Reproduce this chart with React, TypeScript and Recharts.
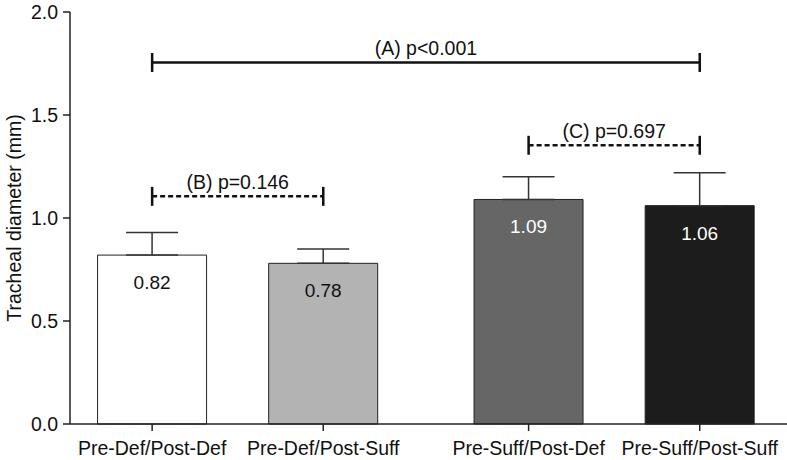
import React from "react";
import {
  BarChart,
  Bar,
  XAxis,
  YAxis,
  ErrorBar,
  LabelList,
  Cell,
  ReferenceLine,
} from "recharts";

// groups
const categories = [
  "Pre-Def/Post-Def",
  "Pre-Def/Post-Suff",
  "Pre-Suff/Post-Def",
  "Pre-Suff/Post-Suff",
];
// slot on the x scale; the bigger step splits the Pre-Def and Pre-Suff pairs
const slots = [1, 2, 3.2, 4.2];
const means = [0.82, 0.78, 1.09, 1.06];
const sds = [0.11, 0.07, 0.11, 0.16];
const yTicks = [0, 0.5, 1.0, 1.5, 2.0];

const compFrom = [0, 0, 2];
const compTo = [3, 1, 3];
const compY = [1.755, 1.105, 1.353];
const compText = ["(A) p<0.001", "(B) p=0.146", "(C) p=0.697"];
const compDashed = [false, true, true];

const barFills = ["#ffffff", "#b3b3b3", "#666666", "#1c1c1c"];
const labelFills = ["#111111", "#111111", "#ffffff", "#ffffff"];
const FONT = "'Liberation Sans', Arial, Helvetica, sans-serif";
const CAP = 0.046;

const data = categories.map((name, i) => ({
  name,
  pos: slots[i],
  mean: means[i],
  err: [0, sds[i]],
}));

const ValueLabel = (props: any) => {
  const { x, y, width, value, index } = props;
  return (
    <text
      x={x + width / 2}
      y={y + 34}
      textAnchor="middle"
      fontSize={19}
      fontFamily={FONT}
      fill={labelFills[index]}
    >
      {Number(value).toFixed(2)}
    </text>
  );
};

const App: React.FC = () => {
  return (
    <div style={{ position: "absolute", left: 0, top: 0 }}>
      <BarChart
        width={787}
        height={460}
        data={data}
        margin={{ top: 12, right: 0, left: 0, bottom: 0 }}
        style={{ fontFamily: FONT }}
      >
        <XAxis
          dataKey="pos"
          type="number"
          domain={[0.52, 4.71]}
          ticks={slots}
          allowDataOverflow
          tickFormatter={(v: number) => categories[slots.indexOf(v)] ?? ""}
          height={36}
          tickSize={7}
          tickMargin={10}
          interval={0}
          axisLine={{ stroke: "#222", strokeWidth: 1.5 }}
          tickLine={{ stroke: "#222", strokeWidth: 1.5 }}
          tick={{ fontSize: 19.5, fill: "#111" }}
        />
        <YAxis
          type="number"
          domain={[0, 2]}
          ticks={yTicks}
          tickFormatter={(v: number) => v.toFixed(1)}
          width={70}
          tickSize={7}
          tickMargin={5}
          axisLine={{ stroke: "#222", strokeWidth: 1.5 }}
          tickLine={{ stroke: "#222", strokeWidth: 1.5 }}
          tick={{ fontSize: 19.5, fill: "#111" }}
          label={{
            value: "Tracheal diameter (mm)",
            angle: -90,
            position: "insideLeft",
            offset: 14,
            fontSize: 19.5,
            fill: "#111",
            style: { textAnchor: "middle" },
          }}
        />
        <Bar
          dataKey="mean"
          barSize={109}
          stroke="#222"
          strokeWidth={1}
          isAnimationActive={false}
        >
          {data.map((d, i) => (
            <Cell key={d.name} fill={barFills[i]} />
          ))}
          <ErrorBar
            dataKey="err"
            width={26}
            stroke="#333"
            strokeWidth={1.5}
            direction="y"
          />
          <LabelList dataKey="mean" content={ValueLabel} />
        </Bar>
        {compText.map((t, i) => {
          const x1 = slots[compFrom[i]];
          const x2 = slots[compTo[i]];
          const y = compY[i];
          return (
            <React.Fragment key={t}>
              <ReferenceLine
                segment={[
                  { x: x1, y },
                  { x: x2, y },
                ]}
                stroke="#111"
                strokeWidth={2.5}
                strokeDasharray={compDashed[i] ? "5 3" : undefined}
                label={{
                  value: t,
                  position: "top",
                  offset: 7,
                  fontSize: 19.5,
                  fill: "#111",
                }}
              />
              <ReferenceLine
                segment={[
                  { x: x1, y: y - CAP },
                  { x: x1, y: y + CAP },
                ]}
                stroke="#111"
                strokeWidth={2.5}
              />
              <ReferenceLine
                segment={[
                  { x: x2, y: y - CAP },
                  { x: x2, y: y + CAP },
                ]}
                stroke="#111"
                strokeWidth={2.5}
              />
            </React.Fragment>
          );
        })}
      </BarChart>
    </div>
  );
};

export default App;
